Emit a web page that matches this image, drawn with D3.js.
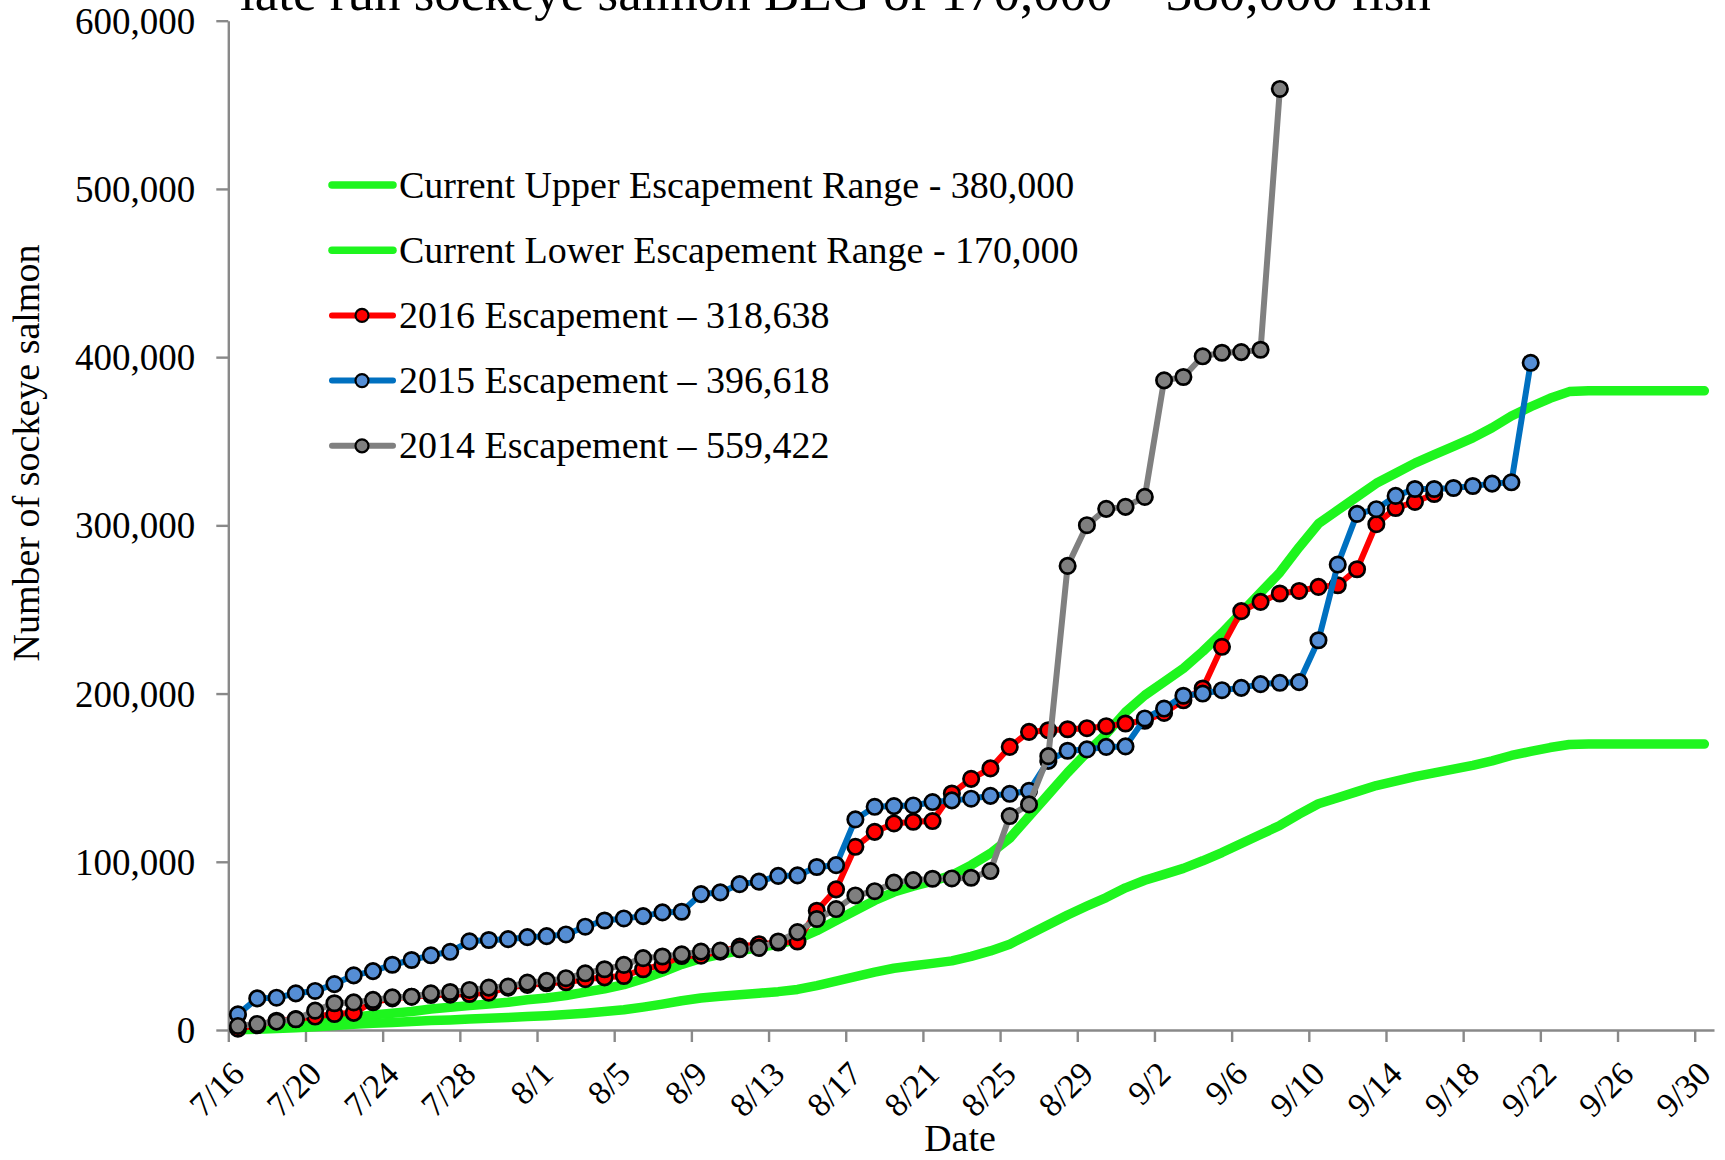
<!DOCTYPE html>
<html>
<head>
<meta charset="utf-8">
<script src="https://cdn.jsdelivr.net/npm/d3@7"></script>
<style>
  html, body { margin: 0; padding: 0; background: #ffffff; }
  svg { display: block; }
  text { font-family: "Liberation Serif", "Times New Roman", Times, serif; fill: #000; }
</style>
</head>
<body>
<svg id="chart" width="1725" height="1160"></svg>
<script>
// Season start: one value per day, beginning 7/16
const seasonStart = new Date(2016, 6, 16);
const axisEnd = new Date(2016, 9, 1);

const xTickLabels = ["7/16","7/20","7/24","7/28","8/1","8/5","8/9","8/13","8/17","8/21",
                     "8/25","8/29","9/2","9/6","9/10","9/14","9/18","9/22","9/26","9/30"];
const yTicks = [0, 100000, 200000, 300000, 400000, 500000, 600000];

// Escapement goal curves (daily cumulative targets)
const upperRange = [500,1000,2000,3000,4500,6000,7500,9000,10000,11000,
  12500,13500,14500,15500,16500,18000,19000,20500,22500,24500,
  27000,30500,34500,39000,42500,45000,47000,49000,51000,54000,
  59000,65000,71000,77000,82000,85500,88500,92000,98000,105000,
  114000,127000,140000,153000,165000,176000,189000,199000,207000,215000,
  225000,236000,248000,260000,272000,287000,301000,309000,317000,325000,
  331000,337000,342000,347000,352000,358000,365000,370500,375500,379500,
  380000,380000,380000,380000,380000,380000,380000];
const lowerRange = [200,500,900,1300,2000,2700,3400,4000,4500,5000,
  5600,6000,6500,7000,7400,8000,8500,9200,10000,11000,
  12000,13600,15400,17400,19000,20100,21000,21900,22800,24100,
  26400,29000,31700,34400,36700,38200,39600,41100,43800,47000,
  51000,56800,62600,68400,73700,78700,84500,89000,92500,96100,
  100600,105500,110900,116200,121600,128300,134500,138100,141700,145300,
  148000,150600,152900,155100,157300,160000,163200,165600,167900,169700,
  170000,170000,170000,170000,170000,170000,170000];

// Cumulative escapement by year
const esc2016 = [800,2800,5500,6500,8000,9500,10200,16500,18800,19800,
  20800,21000,21400,22200,25200,26800,27800,28400,30200,31300,
  32100,36100,38700,44000,44200,46600,49600,51000,52000,52600,
  70900,83600,108900,117800,122800,123800,124200,140600,149300,155500,
  168300,177200,178200,178800,179400,180600,182200,183800,188500,196000,
  203000,227800,249000,254500,259500,261000,263400,264400,273900,300700,
  310300,313900,318638];
const esc2015 = [9300,18800,19200,21800,23200,27300,32500,35000,38800,41600,
  44400,46500,52700,53500,54000,55200,55800,56800,61400,65100,
  66300,67700,69900,70300,80800,81800,86700,88200,91600,91900,
  96900,98000,125200,132700,133100,133500,135500,136500,137500,139200,
  140400,142200,160000,166000,166800,168300,168600,185200,191100,198700,
  200000,202000,203400,205600,206400,206800,231700,276700,306800,309600,
  317500,321600,321600,322200,323400,324800,325600,396618];
const esc2014 = [2400,3600,5000,6400,11500,15900,16400,17900,19400,19800,
  21800,22600,23800,25200,25800,28200,29200,30800,33700,36100,
  38700,42700,43700,45000,46600,47200,48000,48800,52600,58200,
  66000,71900,80000,82500,87600,89100,89900,90100,90500,94500,
  127200,134100,162800,275900,300100,309800,311000,316900,386200,388200,
  400500,402600,403000,404400,559422];

const titleText = "late run sockeye salmon BEG of 170,000 \u2013 380,000 fish";
const yTitle = "Number of sockeye salmon";
const xTitle = "Date";

const series = [
  { name: "Current Upper Escapement Range - 380,000", values: upperRange, stroke: "#1ef51e", width: 9.5, marker: null },
  { name: "Current Lower Escapement Range - 170,000", values: lowerRange, stroke: "#1ef51e", width: 9.5, marker: null },
  { name: "2016 Escapement \u2013 318,638", values: esc2016, stroke: "#ff0000", width: 6, marker: "#ff0000" },
  { name: "2015 Escapement \u2013 396,618", values: esc2015, stroke: "#0070c0", width: 6, marker: "#558ed5" },
  { name: "2014 Escapement \u2013 559,422", values: esc2014, stroke: "#808080", width: 6, marker: "#7f7f7f" }
];

const svg = d3.select("#chart");
const axisColor = "#898989";

const x = d3.scaleTime().domain([seasonStart, axisEnd]).range([228.3, 1714]);
const y = d3.scaleLinear().domain([0, 600000]).range([1030, 20.7]);

// daily points sit in the middle of their day
const dayCenter = i => d3.timeHour.offset(d3.timeDay.offset(seasonStart, i), 12);
const parseTick = s => { const [m, d] = s.split("/").map(Number); return new Date(2016, m - 1, d); };

// title (first line runs off the top edge)
svg.append("text")
  .attr("x", 240).attr("y", 10)
  .attr("font-size", 53)
  .text(titleText);

// y axis
const yAxis = svg.append("g")
  .attr("transform", `translate(${x.range()[0]},0)`)
  .call(d3.axisLeft(y).tickValues(yTicks).tickSize(12).tickSizeOuter(0)
        .tickPadding(21).tickFormat(d3.format(",")));
yAxis.selectAll("text").attr("font-size", 37).attr("font-family", null).attr("dy", "0.34em");

// x axis
const tickDates = xTickLabels.map(parseTick);
const xAxis = svg.append("g")
  .attr("transform", `translate(0,${y(0)})`)
  .call(d3.axisBottom(x).tickValues(tickDates).tickSize(12).tickSizeOuter(0).tickFormat(() => ""));
xAxis.selectAll(".tick text").remove();

[yAxis, xAxis].forEach(g => {
  g.select(".domain").attr("stroke", axisColor).attr("stroke-width", 2.4);
  g.selectAll(".tick line").attr("stroke", axisColor).attr("stroke-width", 2.4);
  g.attr("font-family", null);
});

// rotated date labels
svg.append("g").selectAll("text")
  .data(tickDates)
  .join("text")
  .attr("font-size", 34)
  .attr("text-anchor", "end")
  .attr("transform", (d, i) => `translate(${x(d) + 18},${y(0) + 46}) rotate(-45)`)
  .text((d, i) => xTickLabels[i]);

// axis titles
svg.append("text")
  .attr("transform", `translate(39,453) rotate(-90)`)
  .attr("text-anchor", "middle")
  .attr("font-size", 38)
  .text(yTitle);

svg.append("text")
  .attr("x", 960).attr("y", 1151)
  .attr("text-anchor", "middle")
  .attr("font-size", 38)
  .text(xTitle);

// series lines and markers, drawn in legend order
const line = d3.line()
  .x((v, i) => x(dayCenter(i)))
  .y(v => y(v));

series.forEach(s => {
  const g = svg.append("g");
  g.append("path")
    .datum(s.values)
    .attr("d", line)
    .attr("fill", "none")
    .attr("stroke", s.stroke)
    .attr("stroke-width", s.width)
    .attr("stroke-linejoin", "round")
    .attr("stroke-linecap", "round");
  if (s.marker) {
    g.selectAll("circle")
      .data(s.values)
      .join("circle")
      .attr("cx", (v, i) => x(dayCenter(i)))
      .attr("cy", v => y(v))
      .attr("r", 7.7)
      .attr("fill", s.marker)
      .attr("stroke", "#000")
      .attr("stroke-width", 2.7);
  }
});

// legend
const legend = svg.append("g");
series.forEach((s, i) => {
  const cy = 185 + i * 65.2;
  legend.append("line")
    .attr("x1", 332).attr("x2", 393)
    .attr("y1", cy).attr("y2", cy)
    .attr("stroke", s.stroke)
    .attr("stroke-width", s.marker ? 6 : 7.5)
    .attr("stroke-linecap", "round");
  if (s.marker) {
    legend.append("circle")
      .attr("cx", 362).attr("cy", cy).attr("r", 6.5)
      .attr("fill", s.marker).attr("stroke", "#000").attr("stroke-width", 2.2);
  }
  legend.append("text")
    .attr("x", 399).attr("y", cy)
    .attr("dy", "0.33em")
    .attr("font-size", 38)
    .text(s.name);
});
</script>
</body>
</html>
